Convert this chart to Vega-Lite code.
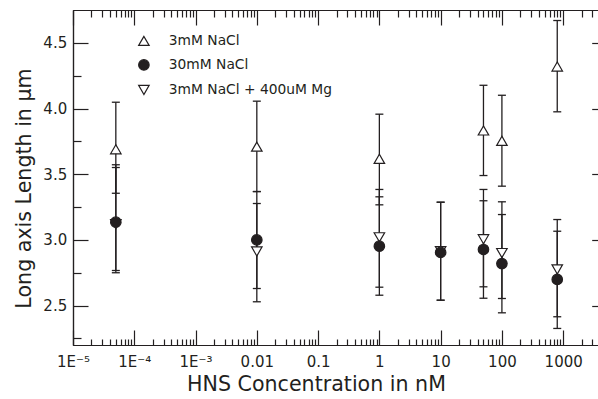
{
  "$schema": "https://vega.github.io/schema/vega-lite/v6.json",
  "width": 525,
  "height": 335,
  "autosize": {"type": "none"},
  "padding": {"left": 73, "top": 10, "right": 0, "bottom": 54},
  "background": "white",
  "config": {
    "view": {"stroke": null},
    "axis": {
      "grid": false,
      "domainColor": "#231f20",
      "domainWidth": 1.2,
      "tickColor": "#231f20",
      "tickWidth": 1.2,
      "labelFont": "DejaVu Sans",
      "labelFontSize": 15,
      "labelColor": "#231f20",
      "titleFont": "DejaVu Sans",
      "titleFontSize": 20.6,
      "titleFontWeight": "normal",
      "titleColor": "#231f20",
      "labelFlush": false,
      "labelOverlap": false
    },
    "legend": {
      "orient": "none", "legendX": 64, "legendY": 24, "title": null,
      "labelFont": "DejaVu Sans", "labelFontSize": 13.8, "labelColor": "#231f20", "labelLimit": 400,
      "symbolSize": 110, "symbolStrokeWidth": 1.2,
      "rowPadding": 9, "labelOffset": 18, "padding": 0
    }
  },
  "data": {
    "values": [
      {"conc": 0.00005, "series": "3mM NaCl", "len": 3.69, "lo": 3.355, "hi": 4.048},
      {"conc": 0.01, "series": "3mM NaCl", "len": 3.71, "lo": 3.368, "hi": 4.056},
      {"conc": 1, "series": "3mM NaCl", "len": 3.617, "lo": 3.267, "hi": 3.957},
      {"conc": 50, "series": "3mM NaCl", "len": 3.833, "lo": 3.49, "hi": 4.177},
      {"conc": 100, "series": "3mM NaCl", "len": 3.754, "lo": 3.409, "hi": 4.101},
      {"conc": 800, "series": "3mM NaCl", "len": 4.32, "lo": 3.975, "hi": 4.67},
      {"conc": 0.00005, "series": "3mM NaCl + 400uM Mg", "len": 3.12, "lo": 2.767, "hi": 3.572},
      {"conc": 0.01, "series": "3mM NaCl + 400uM Mg", "len": 2.912, "lo": 2.529, "hi": 3.277},
      {"conc": 1, "series": "3mM NaCl + 400uM Mg", "len": 3.02, "lo": 2.64, "hi": 3.384},
      {"conc": 10, "series": "3mM NaCl + 400uM Mg", "len": 2.915, "lo": 2.541, "hi": 3.287},
      {"conc": 50, "series": "3mM NaCl + 400uM Mg", "len": 3.005, "lo": 2.643, "hi": 3.384},
      {"conc": 100, "series": "3mM NaCl + 400uM Mg", "len": 2.9, "lo": 2.554, "hi": 3.29},
      {"conc": 800, "series": "3mM NaCl + 400uM Mg", "len": 2.775, "lo": 2.415, "hi": 3.155},
      {"conc": 0.00005, "series": "30mM NaCl", "len": 3.135, "lo": 2.75, "hi": 3.551},
      {"conc": 0.01, "series": "30mM NaCl", "len": 3.0, "lo": 2.63, "hi": 3.368},
      {"conc": 1, "series": "30mM NaCl", "len": 2.952, "lo": 2.579, "hi": 3.328},
      {"conc": 10, "series": "30mM NaCl", "len": 2.905, "lo": 2.541, "hi": 3.287},
      {"conc": 50, "series": "30mM NaCl", "len": 2.927, "lo": 2.556, "hi": 3.298},
      {"conc": 100, "series": "30mM NaCl", "len": 2.82, "lo": 2.445, "hi": 3.193},
      {"conc": 800, "series": "30mM NaCl", "len": 2.699, "lo": 2.326, "hi": 3.066}
    ]
  },
  "resolve": {"axis": {"x": "independent", "y": "independent"}},
  "layer": [
    {
      "mark": {"type": "rule", "color": "#231f20", "strokeWidth": 1.3},
      "encoding": {
        "x": {
          "field": "conc", "type": "quantitative",
          "scale": {"type": "log", "domain": [0.00001, 3700], "nice": false},
          "axis": {
            "orient": "bottom",
            "values": [0.00001, 0.0001, 0.001, 0.01, 0.1, 1, 10, 100, 1000],
            "tickSize": -15,
            "labelPadding": 36.7,
            "labelBaseline": "alphabetic",
            "labelExpr": "datum.value < 0.00005 ? '1E⁻⁵' : datum.value < 0.0005 ? '1E⁻⁴' : datum.value < 0.005 ? '1E⁻³' : datum.value < 0.05 ? '0.01' : datum.value < 0.5 ? '0.1' : format(datum.value, 'd')",
            "title": "HNS Concentration in nM",
            "titleX": 243,
            "titleY": 45.3,
            "titleBaseline": "alphabetic",
            "titleAlign": "center",
            "titleAnchor": null
          }
        },
        "y": {
          "field": "lo", "type": "quantitative",
          "scale": {"domain": [2.2, 4.75], "nice": false, "zero": false},
          "axis": {
            "orient": "left",
            "values": [2.5, 3.0, 3.5, 4.0, 4.5],
            "format": ".1f",
            "tickSize": -15,
            "labelPadding": 21.3,
            "title": "Long axis Length in μm",
            "titleAngle": 270,
            "titleX": -42.5,
            "titleY": 178,
            "titleBaseline": "alphabetic",
            "titleAlign": "center",
            "titleAnchor": null
          }
        },
        "y2": {"field": "hi"}
      }
    },
    {
      "mark": {"type": "tick", "orient": "horizontal", "size": 8, "thickness": 1.3, "color": "#231f20", "opacity": 1},
      "encoding": {
        "x": {
          "field": "conc", "type": "quantitative",
          "scale": {"type": "log", "domain": [0.00001, 3700], "nice": false},
          "axis": {
            "orient": "bottom",
            "values": [0.00002, 0.00003, 0.00004, 0.00005, 0.00006, 0.00007, 0.00008, 0.00009, 0.0002, 0.0003, 0.0004, 0.0005, 0.0006, 0.0007, 0.0008, 0.0009, 0.002, 0.003, 0.004, 0.005, 0.006, 0.007, 0.008, 0.009, 0.02, 0.03, 0.04, 0.05, 0.06, 0.07, 0.08, 0.09, 0.2, 0.3, 0.4, 0.5, 0.6, 0.7, 0.8, 0.9, 2, 3, 4, 5, 6, 7, 8, 9, 20, 30, 40, 50, 60, 70, 80, 90, 200, 300, 400, 500, 600, 700, 800, 900, 2000, 3000],
            "tickSize": -6,
            "labels": false,
            "title": null
          }
        },
        "y": {
          "field": "lo", "type": "quantitative",
          "scale": {"domain": [2.2, 4.75], "nice": false, "zero": false},
          "axis": {
            "orient": "left",
            "values": [2.25, 2.75, 3.25, 3.75, 4.25],
            "tickSize": -8,
            "labels": false,
            "title": null
          }
        }
      }
    },
    {
      "mark": {"type": "tick", "orient": "horizontal", "size": 8, "thickness": 1.3, "color": "#231f20", "opacity": 1},
      "encoding": {
        "x": {
          "field": "conc", "type": "quantitative",
          "scale": {"type": "log", "domain": [0.00001, 3700], "nice": false},
          "axis": {
            "orient": "top",
            "values": [0.00001, 0.0001, 0.001, 0.01, 0.1, 1, 10, 100, 1000],
            "tickSize": -15,
            "labels": false,
            "title": null
          }
        },
        "y": {
          "field": "hi", "type": "quantitative",
          "scale": {"domain": [2.2, 4.75], "nice": false, "zero": false},
          "axis": {
            "orient": "right",
            "offset": 8.7,
            "values": [2.5, 3.0, 3.5, 4.0, 4.5],
            "tickSize": -15,
            "labels": false,
            "title": null
          }
        }
      }
    },
    {
      "mark": {"type": "point", "filled": true, "strokeWidth": 1.2, "opacity": 1, "size": 110},
      "encoding": {
        "x": {
          "field": "conc", "type": "quantitative",
          "scale": {"type": "log", "domain": [0.00001, 3700], "nice": false},
          "axis": {
            "orient": "top",
            "values": [0.00002, 0.00003, 0.00004, 0.00005, 0.00006, 0.00007, 0.00008, 0.00009, 0.0002, 0.0003, 0.0004, 0.0005, 0.0006, 0.0007, 0.0008, 0.0009, 0.002, 0.003, 0.004, 0.005, 0.006, 0.007, 0.008, 0.009, 0.02, 0.03, 0.04, 0.05, 0.06, 0.07, 0.08, 0.09, 0.2, 0.3, 0.4, 0.5, 0.6, 0.7, 0.8, 0.9, 2, 3, 4, 5, 6, 7, 8, 9, 20, 30, 40, 50, 60, 70, 80, 90, 200, 300, 400, 500, 600, 700, 800, 900, 2000, 3000],
            "tickSize": -7,
            "labels": false,
            "title": null
          }
        },
        "y": {
          "field": "len", "type": "quantitative",
          "scale": {"domain": [2.2, 4.75], "nice": false, "zero": false},
          "axis": {
            "orient": "right",
            "offset": 8.7,
            "values": [2.25, 2.75, 3.25, 3.75, 4.25],
            "tickSize": -8,
            "labels": false,
            "title": null
          }
        },
        "shape": {
          "field": "series", "type": "nominal",
          "scale": {"domain": ["3mM NaCl", "30mM NaCl", "3mM NaCl + 400uM Mg"], "range": ["triangle-up", "circle", "triangle-down"]},
          "legend": {"title": null}
        },
        "fill": {
          "field": "series", "type": "nominal",
          "scale": {"domain": ["3mM NaCl", "30mM NaCl", "3mM NaCl + 400uM Mg"], "range": ["white", "#231f20", "white"]},
          "legend": {"title": null}
        },
        "stroke": {
          "field": "series", "type": "nominal",
          "scale": {"domain": ["3mM NaCl", "30mM NaCl", "3mM NaCl + 400uM Mg"], "range": ["#231f20", "#231f20", "#231f20"]},
          "legend": {"title": null}
        }
      }
    }
  ]
}
